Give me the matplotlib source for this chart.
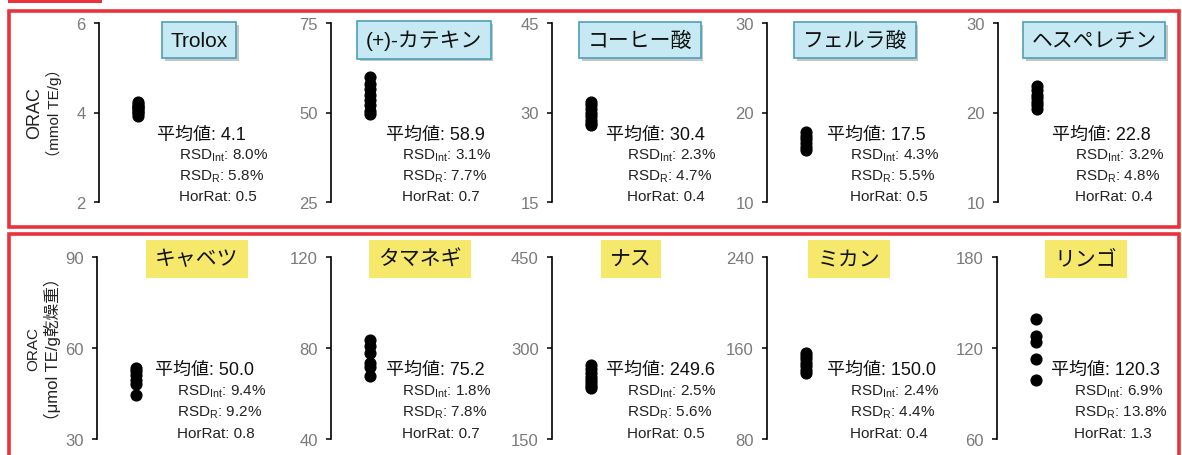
"""ORAC inter-laboratory results: standards (top) and food samples (bottom)."""

import matplotlib

matplotlib.use("Agg")
import matplotlib.pyplot as plt  # noqa: E402
import matplotlib.patheffects as pe  # noqa: E402
from matplotlib.patches import Rectangle  # noqa: E402
from matplotlib.transforms import blended_transform_factory  # noqa: E402

plt.rcParams["font.family"] = ["Liberation Sans", "Noto Sans CJK JP", "DejaVu Sans"]
plt.rcParams["mathtext.fontset"] = "custom"
plt.rcParams["mathtext.rm"] = "Liberation Sans"

# ---- data -------------------------------------------------------------
TOP_NAMES = ["Trolox", "(+)-カテキン", "コーヒー酸", "フェルラ酸", "ヘスペレチン"]
TOP_LIMITS = [(2, 6), (25, 75), (15, 45), (10, 30), (10, 30)]
TOP_VALUES = [
    [4.23, 4.19, 4.15, 4.12, 4.09, 4.06, 4.02, 3.98, 3.93],
    [59.8, 58.0, 56.5, 55.0, 53.5, 52.0, 50.5, 49.5],
    [31.8, 31.2, 30.6, 30.0, 29.4, 28.8, 28.2, 27.9],
    [17.8, 17.4, 17.0, 16.6, 16.2, 15.8],
    [23.0, 22.5, 22.0, 21.6, 21.2, 20.8, 20.4],
]
TOP_MEAN = ["4.1", "58.9", "30.4", "17.5", "22.8"]
TOP_RSD_INT = ["8.0%", "3.1%", "2.3%", "4.3%", "3.2%"]
TOP_RSD_R = ["5.8%", "7.7%", "4.7%", "5.5%", "4.8%"]
TOP_HORRAT = ["0.5", "0.7", "0.4", "0.5", "0.4"]

BOTTOM_NAMES = ["キャベツ", "タマネギ", "ナス", "ミカン", "リンゴ"]
BOTTOM_LIMITS = [(30, 90), (40, 120), (150, 450), (80, 240), (60, 180)]
BOTTOM_VALUES = [
    [53.5, 52.5, 51.0, 49.5, 48.0, 44.5],
    [83.5, 81.0, 78.0, 73.5, 71.5, 67.5],
    [272, 266, 258, 252, 247, 242, 238, 234],
    [156, 153, 150, 147, 144, 141, 138],
    [139, 128, 124, 113, 99],
]
BOTTOM_MEAN = ["50.0", "75.2", "249.6", "150.0", "120.3"]
BOTTOM_RSD_INT = ["9.4%", "1.8%", "2.5%", "2.4%", "6.9%"]
BOTTOM_RSD_R = ["9.2%", "7.8%", "5.6%", "4.4%", "13.8%"]
BOTTOM_HORRAT = ["0.8", "0.7", "0.5", "0.4", "1.3"]

TOP_YLABEL = ("ORAC", "（mmol TE/g）")
BOTTOM_YLABEL = ("ORAC", "（μmol TE/g乾燥重）")

# ---- layout (pixels) -------------------------------------------------
W, H = 1182, 456
AX_W = 200
TOP_LEFTS = [99, 331, 552, 767, 998]
BOTTOM_LEFTS = [97, 331, 552, 767, 997]
TOP_Y = (24, 203)
BOTTOM_Y = (258, 440)
DOT_X = 39
MEAN_X = [58, 55, 54, 60, 54]
RSD_X = [80, 71, 75, 83, 77]
TOP_TITLE_X = [100, 93, 88, 88, 96]
BOTTOM_TITLE_X = [100, 89, 79, 82, 89]

RED = "#e8323c"


def draw_panel(ax, name, limits, values, stats, title_x, title_y, style,
               mean_x, rsd_x):
    lo, hi = limits
    ax.set_xlim(0, AX_W)
    ax.set_ylim(lo, hi)
    ax.set_yticks([lo, (lo + hi) / 2, hi])
    ax.set_yticklabels([f"{v:g}" for v in (lo, (lo + hi) / 2, hi)])
    for side in ("top", "right", "bottom"):
        ax.spines[side].set_visible(False)
    ax.spines["left"].set_linewidth(1.2)
    ax.set_xticks([])
    ax.tick_params(axis="y", direction="out", length=3.5, width=1.1,
                   labelsize=12, labelcolor="#7a7a7a", pad=6)
    ax.patch.set_alpha(0)

    ax.scatter([DOT_X] * len(values), values, s=60, color="black",
               zorder=3, clip_on=False)

    trans = blended_transform_factory(ax.transData, ax.transAxes)
    mean, rsd_int, rsd_r, horrat = stats
    ax.text(mean_x, 0.38, f"平均値: {mean}", transform=trans, fontsize=13,
            va="center", ha="left", color="#111111")
    lines = [r"RSD$_{\mathrm{Int}}$: " + rsd_int,
             r"RSD$_{\mathrm{R}}$: " + rsd_r,
             f"HorRat: {horrat}"]
    for y, line in zip((0.265, 0.148, 0.032), lines):
        ax.text(rsd_x, y, line, transform=trans, fontsize=11,
                va="center", ha="left", color="#222222")

    if style == "blue":
        box = dict(boxstyle="square,pad=0.4", fc="#c6e9f3", ec="#4e9fb8", lw=1.2)
    else:
        box = dict(boxstyle="square,pad=0.45", fc="#f6e86a", ec="none")
    t = ax.text(title_x, title_y, name, transform=trans, fontsize=15,
                ha="center", va="center", color="#111111", bbox=box, zorder=4)
    if style == "blue":
        t.get_bbox_patch().set_path_effects(
            [pe.SimplePatchShadow(offset=(2, -2), alpha=0.3), pe.Normal()])


fig = plt.figure(figsize=(W / 100, H / 100), dpi=100)


def px_rect(x0, y0, x1, y1, **kw):
    return Rectangle((x0 / W, 1 - y1 / H), (x1 - x0) / W, (y1 - y0) / H,
                     transform=fig.transFigure, **kw)


# red frames
fig.patches.append(px_rect(8, -2, 102, 4, fc=RED, ec="none"))
fig.patches.append(px_rect(9, 12, 1179, 228, fc="none", ec=RED, lw=2.6))
fig.patches.append(px_rect(9, 235, 1179, 470, fc="none", ec=RED, lw=2.6))

rows = [
    (TOP_LEFTS, TOP_Y, TOP_NAMES, TOP_LIMITS, TOP_VALUES,
     list(zip(TOP_MEAN, TOP_RSD_INT, TOP_RSD_R, TOP_HORRAT)),
     TOP_TITLE_X, 0.905, "blue", TOP_YLABEL, (13, 11)),
    (BOTTOM_LEFTS, BOTTOM_Y, BOTTOM_NAMES, BOTTOM_LIMITS, BOTTOM_VALUES,
     list(zip(BOTTOM_MEAN, BOTTOM_RSD_INT, BOTTOM_RSD_R, BOTTOM_HORRAT)),
     BOTTOM_TITLE_X, 0.99, "yellow", BOTTOM_YLABEL, (11, 12)),
]

for (lefts, (ytop, ybot), names, limits, values, stats, title_xs, title_y,
     style, ylabel, label_sizes) in rows:
    for i in range(5):
        ax = fig.add_axes([lefts[i] / W, 1 - ybot / H, AX_W / W, (ybot - ytop) / H])
        draw_panel(ax, names[i], limits[i], values[i], stats[i],
                   title_xs[i], title_y, style, MEAN_X[i], RSD_X[i])
        if i == 0:
            for xf, txt, size in zip((-0.32, -0.225), ylabel, label_sizes):
                ax.text(xf, 0.5, txt, transform=ax.transAxes, rotation=90,
                        ha="center", va="center", fontsize=size,
                        color="#222222")

fig.savefig("out.png", dpi=100)
plt.close(fig)
